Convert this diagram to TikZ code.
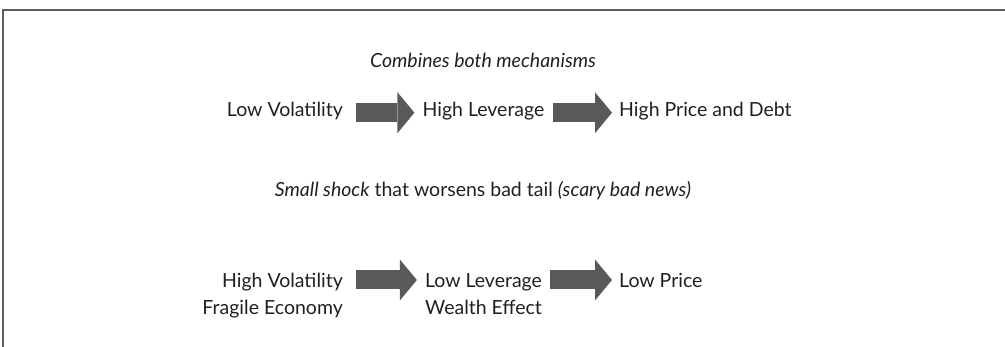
\documentclass[tikz,border=0pt]{standalone}
\usepackage{fontspec}
\setmainfont{Lato}
\usetikzlibrary{arrows.meta}
\definecolor{arrowgray}{HTML}{595959}
\definecolor{textdark}{HTML}{231F20}
\definecolor{framegray}{HTML}{5F5F5F}
\begin{document}
\begin{tikzpicture}[x=1pt, y=-1pt]
  \tikzstyle{txt} = [inner sep=0pt, text=textdark, font=\fontsize{19.5}{27}\selectfont]
  \tikzstyle{mid} = [txt, align=center]
  \tikzstyle{big} = [draw=arrowgray, line width=19pt,
                     -{Triangle[length=17pt, width=41pt, line width=0pt]}]
\useasboundingbox (0,0) rectangle (1005,347);
\draw[framegray, line width=2pt] (3,347) -- (3,10) -- (1005,10);
\node[txt, font=\fontsize{19.5}{27}\selectfont\itshape, anchor=base](both) at (483,68){Combines both mechanisms};
\node[txt, anchor=base east](lowvol) at (343,116.5){Low Volatility};
\node[mid, anchor=base](highlev) at (483.5,116.5){High Leverage};
\node[txt, anchor=base west](highpd) at (619,116.5){High Price and Debt};
\node[txt, anchor=base](shock) at (483,197){{\itshape Small shock} that worsens bad tail {\itshape (scary bad news)}};
\node[txt, align=right, anchor=base east](highvol) at (343,315){High Volatility\\Fragile Economy};
\node[mid, anchor=base](lowlev) at (483.5,315){Low Leverage\\Wealth Effect};
\node[txt, anchor=base west](lowp) at (619,288){Low Price};
\draw[big] ([xshift=13pt, yshift=3.8pt]lowvol.base east) -- ([xshift=-8pt, yshift=3.8pt]highlev.base west);
\draw[big] ([xshift=8pt, yshift=3.8pt]highlev.base east) -- ([xshift=-7pt, yshift=3.8pt]highpd.base west);
\draw[big] ([xshift=13pt, yshift=35pt]highvol.base east) -- ([xshift=-8pt, yshift=35pt]lowlev.base west);
\draw[big] ([xshift=8pt, yshift=35pt]lowlev.base east) -- ([xshift=-7pt, yshift=8pt]lowp.base west);
\end{tikzpicture}
\end{document}
